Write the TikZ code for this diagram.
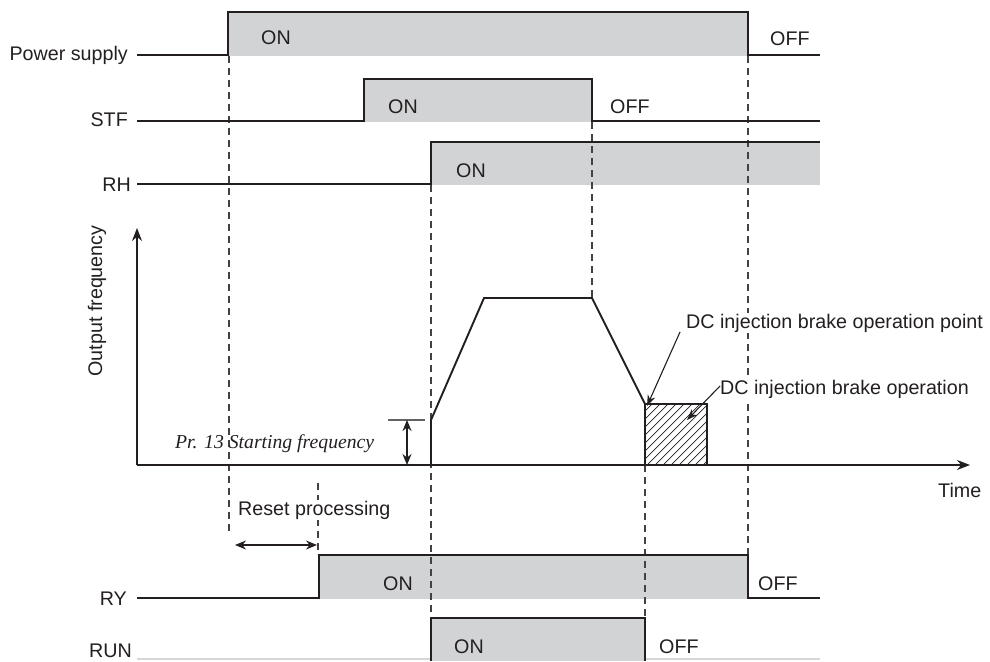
\documentclass[tikz,border=0pt]{standalone}
\usepackage{fontspec}
\setmainfont{Liberation Sans}
\newfontfamily\tcserif{Liberation Serif}
\usetikzlibrary{arrows.meta,positioning}
\definecolor{tcline}{RGB}{35,31,32}
\definecolor{tcgray}{RGB}{210,211,213}
\definecolor{tcfaint}{RGB}{214,214,216}
\tikzset{
  tcsig/.style={draw=tcline, line width=1.9pt, line join=miter},
  tcfill/.style={fill=tcgray, draw=none},
  tcdash/.style={draw=tcline!85, line width=1.1pt, dash pattern=on 7pt off 5pt},
  tcaxis/.style={draw=tcline, line width=1.6pt, -{Stealth[length=13pt,width=10pt]}},
  tcarr/.style={draw=tcline, line width=1.1pt, -{Stealth[length=11pt,width=8pt]}},
  tcdarr/.style={draw=tcline, line width=1.5pt, {Stealth[length=11pt,width=9pt]}-{Stealth[length=11pt,width=9pt]}},
  tctext/.style={inner sep=0pt, text=tcline, font=\fontsize{19.7}{22}\selectfont},
  tclabel/.style={tctext, anchor=base east},
  tcstate/.style={tctext, anchor=base west},
  tcnote/.style={tcstate, fill=white, inner sep=1pt}
}

\begin{document}
\begin{tikzpicture}[x=1pt, y=-1pt]
  \useasboundingbox (0,0) rectangle (990,661);
  % gray ON areas
  \fill[tcfill] (228,12) rectangle (748,56);
  \fill[tcfill] (364,79) rectangle (592,122);
  \fill[tcfill] (431,142) rectangle (820,185);
  \fill[tcfill] (319,555) rectangle (748,599);
  \fill[tcfill] (431,618) rectangle (645,661);
  % dashed timing marks
  \draw[tcdash] (229,56) -- (229,532);
  \draw[tcdash] (318,483) -- (318,555);
  \draw[tcdash] (431,185) -- (431,618);
  \draw[tcdash] (592,122) -- (592,298);
  \draw[tcdash] (645,465) -- (645,618);
  \draw[tcdash] (748,56) -- (748,555);
  % signals
  \node[tclabel] (lblpower) at (128,61) {Power supply};
  \node[tclabel] (lblstf) at (128,126) {STF};
  \node[tclabel] (lblrh) at (131,191) {RH};
  \node[tclabel] (lblry) at (127,605) {RY};
  \node[tclabel] (lblrun) at (132,657) {RUN};
  \draw[tcsig] (137,55) -- (228,55) -- (228,12) -- (748,12) -- (748,55) -- (820,55);
  \draw[tcsig] (137,121) -- (364,121) -- (364,79) -- (592,79) -- (592,121) -- (820,121);
  \draw[tcsig] (137,184) -- (431,184) -- (431,142) -- (820,142);
  \draw[tcsig] (137,598) -- (319,598) -- (319,555) -- (748,555) -- (748,598) -- (820,598);
  \draw[tcfaint, line width=1.2pt] (137,659) -- (431,659) (645,659) -- (820,659);
  \draw[tcsig] (431,661) -- (431,618) -- (645,618) -- (645,661);
  \node[tcstate] (onpower) at (261,45) {ON};
  \node[tcstate] (offpower) at (770,46) {OFF};
  \node[tcstate] (onstf) at (388,113) {ON};
  \node[tcstate] (offstf) at (610,113) {OFF};
  \node[tcstate] (onrh) at (456,177) {ON};
  \node[tcstate] (onry) at (383,590) {ON};
  \node[tcstate] (offry) at (758,590) {OFF};
  \node[tcstate] (onrun) at (454,653) {ON};
  \node[tcstate] (offrun) at (659,653) {OFF};
  % output frequency graph
  \coordinate (origin) at (137,465);
  \draw[tcaxis] (origin) -- (137,228);
  \draw[tcaxis] (origin) -- (970,465);
  \node[tctext, rotate=90, anchor=base] (lblfreq) at (102,301) {Output frequency};
  \node[tcstate] (lbltime) at (938,497) {Time};
  \coordinate (brkpt) at (645,404);
  \begin{scope}
    \clip (645,404) rectangle (707,465);
    \foreach \d in {0,8,...,140}
      \draw[tcline, line width=0.7pt] (575+\d,465) -- ++(70,-70);
  \end{scope}
  \draw[tcline, line width=1.4pt] (645,404) rectangle (707,465);
  \draw[tcsig] (431,465) -- (431,420) -- (484,298) -- (592,298) -- (brkpt);
  % starting frequency
  \draw[tcline!70, line width=1.3pt] (388,420) -- (425,420);
  \draw[tcdarr] (407,420) -- (407,465);
  \node[tcstate, font=\fontsize{19.7}{22}\selectfont\tcserif\itshape] (lblstart) at (175,448) {Pr. 13 Starting frequency};
  % DC injection brake labels
  \node[tcnote] (lblbrkpt) at (685,328) {DC injection brake operation point};
  \node[tcnote] (lblbrkop) at (719,394) {DC injection brake operation};
  \coordinate (brkfoot) at (720,386);
  \coordinate (brkarea) at (687,420);
  \draw[tcarr] ([xshift=-5pt,yshift=-4pt]lblbrkpt.base west) -- ([xshift=2pt,yshift=-2pt]brkpt);
  \draw[tcarr] (brkfoot) -- (brkarea);
  % reset processing
  \node[tcnote] (lblreset) at (237,515) {Reset processing};
  \draw[tcdarr] (235,545) -- (317,545);
\end{tikzpicture}
\end{document}
